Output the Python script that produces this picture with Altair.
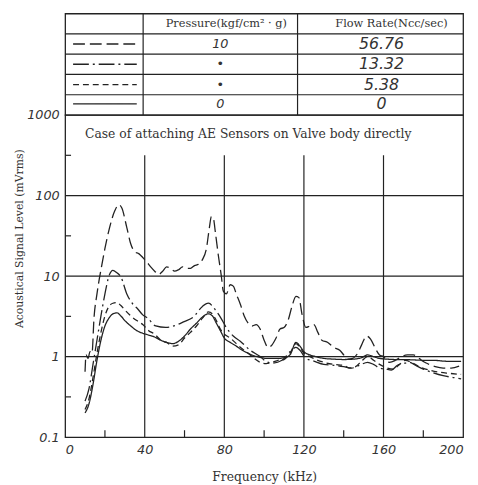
import altair as alt
import pandas as pd

# ---------------- data ----------------
series_names = ["p10", "dashdot", "shortdash", "zero"]
pressure_labels = ["10", "•", "•", "0"]
flow_labels = ["56.76", "13.32", "5.38", "0"]

f1 = [10,10.5,11.5,12.5,13.5,14.5,16,18.5,20,22,25,27,28.5,31,33,35,37,39,41,43,45,47,49,51,53,55,57,59,61,63,65,67,69,71,72.5,73.5,74.5,75.5,77,78.5,79.5,81,83,84.5,86,88,90,92,94,96,98,100,102,104,106,108,110,112,114,116,117.5,119,121,123,125,127,129,132,135,138,140,142,144.5,147,149,151.5,153.5,156,158,160,163,166,169,172,175,177,179,182,186,190,194,198]
v1 = [0.65,1.05,0.95,1.15,1.1,3,6,14,22,37,65,77,70,40,25,20,19,17,15,13,11.5,10.5,11.5,13,12.5,11.5,12,13,12.5,12.5,13.5,14,16,22,40,55,52,35,18,10,6.5,6,7.8,7.5,6,4.5,3.2,2.6,2.4,2.5,2.2,1.6,1.3,1.4,1.7,2.2,2.3,2.8,4.2,5.6,5.4,3.4,2.3,2.4,2.5,2.0,1.6,1.5,1.3,1.2,1.05,0.93,0.95,1.1,1.4,1.8,1.65,1.25,1.05,1.0,0.85,0.9,1.0,1.05,1.05,1.0,0.9,0.82,0.75,0.72,0.72,0.76]

f2 = [10,12,14,16,18,20,22,24,26,28,31,34,36.5,39,41.5,45.5,50.5,56.5,59.5,64.5,69,72,75.5,78,81,84.5,88,93,98,101,104,109,113,116,118,121,125,130,135,140,144,148,152,155,158,161,164,167,170,173,176,180,185,190,195,199]
v2 = [0.28,0.4,0.8,1.6,3.2,6,10,11.8,11,9.8,6,4.5,3.9,3.3,3.0,2.4,2.3,2.5,2.7,3.1,4.2,4.6,3.8,3.1,2.3,1.8,1.55,1.2,1.0,0.87,0.83,0.9,1.15,1.3,1.2,0.95,0.88,0.8,0.78,0.75,0.72,0.78,0.85,0.8,0.72,0.7,0.68,0.78,0.82,0.85,0.78,0.7,0.63,0.58,0.55,0.53]

f3 = [10,12,14,16,18,20,22,24,26,28,30,33,36,39,42,45,48,51,54,57,60,63,66,69,72,74,76,78,80,83,86,89,92,95,98,101,104,107,110,113,116,118,120,123,126,130,135,140,143,146,149,152,155,158,162,165,168,171,174,178,183,188,193,199]
v3 = [0.22,0.3,0.55,1.1,2.0,3.2,4.2,4.6,4.7,4.3,3.8,3.2,2.8,2.5,2.1,1.9,1.6,1.5,1.35,1.4,1.7,2.0,2.4,3.0,3.6,3.4,2.8,2.2,1.9,1.7,1.45,1.25,1.1,0.95,0.85,0.82,0.85,0.9,0.92,1.1,1.45,1.3,1.1,1.0,0.92,0.85,0.8,0.78,0.72,0.75,0.88,1.0,0.9,0.8,0.72,0.7,0.8,0.9,0.85,0.75,0.68,0.64,0.62,0.6]

f4 = [10,12,14,16,18,20,22,24,26,28,30,33,36,39,42,45,48,51,54,57,60,63,66,69,72,74,76,78,80,83,86,89,92,95,98,101,104,107,110,113,116,118,120,123,126,130,135,140,145,149,152,155,158,162,166,170,175,180,185,190,195,199]
v4 = [0.2,0.26,0.45,0.9,1.6,2.4,3.0,3.4,3.5,3.2,2.8,2.4,2.1,1.95,1.85,1.75,1.6,1.5,1.45,1.55,1.8,2.2,2.6,3.1,3.4,3.2,2.6,2.1,1.7,1.5,1.35,1.2,1.1,1.02,0.98,0.95,0.95,0.95,0.97,1.05,1.5,1.35,1.15,1.05,1.0,0.95,0.93,0.92,0.93,0.97,1.05,1.0,0.95,0.93,0.92,0.92,0.91,0.9,0.9,0.88,0.87,0.87]

x_label_values = [0, 40, 80, 120, 160, 200]
y_label_values = [0.1, 1, 10, 100, 1000]
x_grid = [40, 80, 120, 160]
y_grid = [1, 10, 100]
x_minor = [20, 60, 100, 140, 180]
y_minor = [0.316, 3.16, 31.6, 316]
note_text = "Case of attaching AE Sensors on Valve body directly"

# ---------------- layout / style ----------------
W = 404
H_TABLE = 103
H_PLOT = 327
INK = "#222222"
TXT = "#333333"
SERIF = "DejaVu Serif"
dash_range = [[12, 5], [16, 4, 2, 4], [6, 4], [1, 0]]
dash_scale = alt.Scale(domain=series_names, range=dash_range)

rows = []
for name, fs, vs in zip(series_names, [f1, f2, f3, f4], [v1, v2, v3, v4]):
    for i, (f, v) in enumerate(zip(fs, vs)):
        rows.append({"series": name, "f": f, "v": v, "i": i})
curves = pd.DataFrame(rows)

# ---------------- legend table ----------------
col_edges = [0.196, 0.584]
xs_t = alt.Scale(domain=[0, 1], nice=False, zero=False)
ys_t = alt.Scale(domain=[0, 5], nice=False, zero=False, reverse=True)

legend_df = pd.DataFrame({
    "series": series_names,
    "pressure": pressure_labels,
    "flow": flow_labels,
    "yc": [1.5, 2.5, 3.5, 4.45],
    "x0": [0.02] * 4,
    "x1": [0.18] * 4,
    "xp": [0.39] * 4,
    "xf": [0.795] * 4,
})

t_base = alt.Chart(legend_df)
t_hlines = alt.Chart(pd.DataFrame({"y": [1, 2, 3, 4]})).mark_rule(color=INK, strokeWidth=1.2).encode(
    y=alt.Y("y:Q", scale=ys_t, axis=None))
t_vlines = alt.Chart(pd.DataFrame({"x": col_edges})).mark_rule(color=INK, strokeWidth=1.2).encode(
    x=alt.X("x:Q", scale=xs_t, axis=None))
t_samples = t_base.mark_rule(color=INK, strokeWidth=1.4).encode(
    x=alt.X("x0:Q", scale=xs_t, axis=None), x2="x1:Q",
    y=alt.Y("yc:Q", scale=ys_t, axis=None),
    strokeDash=alt.StrokeDash("series:N", scale=dash_scale, legend=None))
t_press = t_base.mark_text(font="DejaVu Sans", fontStyle="italic", fontSize=13, color=TXT).encode(
    x=alt.X("xp:Q", scale=xs_t, axis=None), y=alt.Y("yc:Q", scale=ys_t, axis=None), text="pressure:N")
t_flow = t_base.mark_text(font="DejaVu Sans", fontStyle="italic", fontSize=16, color=TXT).encode(
    x=alt.X("xf:Q", scale=xs_t, axis=None), y=alt.Y("yc:Q", scale=ys_t, axis=None), text="flow:N")
hdr_df = pd.DataFrame({"x": [0.405, 0.82], "y": [0.5, 0.5],
                       "t": ["Pressure(kgf/cm² · g)", "Flow Rate(Ncc/sec)"]})
t_hdr = alt.Chart(hdr_df).mark_text(font=SERIF, fontSize=11.5, color=TXT).encode(
    x=alt.X("x:Q", scale=xs_t, axis=None), y=alt.Y("y:Q", scale=ys_t, axis=None), text="t:N")

table = alt.layer(t_hlines, t_vlines, t_samples, t_press, t_flow, t_hdr).properties(width=W, height=H_TABLE)

# ---------------- main plot ----------------
xscale = alt.Scale(domain=[0, 200], nice=False, zero=False)
yscale = alt.Scale(type="log", domain=[0.1, 1000], nice=False)
xaxis = alt.Axis(values=x_label_values, tickSize=0, grid=False, domain=False,
                 labelFont="DejaVu Sans", labelFontStyle="italic", labelFontSize=13,
                 labelColor=TXT, labelPadding=7,
                 title="Frequency (kHz)", titleFont=SERIF, titleFontSize=12.5,
                 titleFontWeight="normal", titleColor=TXT, titleY=40, titleBaseline="middle")
yaxis = alt.Axis(values=y_label_values, format="~g", tickSize=0, grid=False, domain=False,
                 labelFont="DejaVu Sans", labelFontStyle="italic", labelFontSize=13,
                 labelColor=TXT, labelPadding=6,
                 title="Acoustical Signal Level (mVrms)", titleFont=SERIF,
                 titleFontSize=11, titleFontWeight="normal", titleColor=TXT,
                 titleX=-46, titleY=125, titleAngle=270, titleAlign="center",
                 titleBaseline="middle")

def X(field="f:Q"):
    return alt.X(field, scale=xscale, axis=xaxis)

def Y(field="v:Q"):
    return alt.Y(field, scale=yscale, axis=yaxis)

hgrid = alt.Chart(pd.DataFrame({"v": y_grid})).mark_rule(color=INK, strokeWidth=1.2).encode(y=Y())
vgrid = alt.Chart(pd.DataFrame({"f": x_grid, "v": [0.1] * 4, "v2": [316] * 4})).mark_rule(
    color=INK, strokeWidth=1.2).encode(x=X(), y=Y(), y2="v2:Q")
yticks = alt.Chart(pd.DataFrame({"v": y_minor})).mark_rule(color=INK, strokeWidth=1.2).encode(
    y=Y(), x=alt.value(0), x2=alt.value(6))
xticks = alt.Chart(pd.DataFrame({"f": x_minor})).mark_rule(color=INK, strokeWidth=1.2).encode(
    x=X(), y=alt.value(H_PLOT), y2=alt.value(H_PLOT - 7))
note = alt.Chart(pd.DataFrame({"f": [10], "v": [585], "t": [note_text]})).mark_text(
    font=SERIF, fontSize=12.5, color=TXT, align="left", baseline="middle").encode(
    x=X(), y=Y(), text="t:N")
lines = alt.Chart(curves).mark_line(color=INK, strokeWidth=1.3, interpolate="monotone").encode(
    x=X(), y=Y(), detail="series:N", order="i:Q",
    strokeDash=alt.StrokeDash("series:N", scale=dash_scale, legend=None))

main = alt.layer(hgrid, vgrid, yticks, xticks, lines, note).properties(width=W, height=H_PLOT)

chart = alt.vconcat(table, main, spacing=0).properties(
    bounds="flush",
    padding={"left": 5, "top": 0, "right": 5, "bottom": 0},
    background="white",
).configure_view(stroke=INK, strokeWidth=1.3)

chart.save("out.html", embed_options={"renderer": "svg", "actions": False})
